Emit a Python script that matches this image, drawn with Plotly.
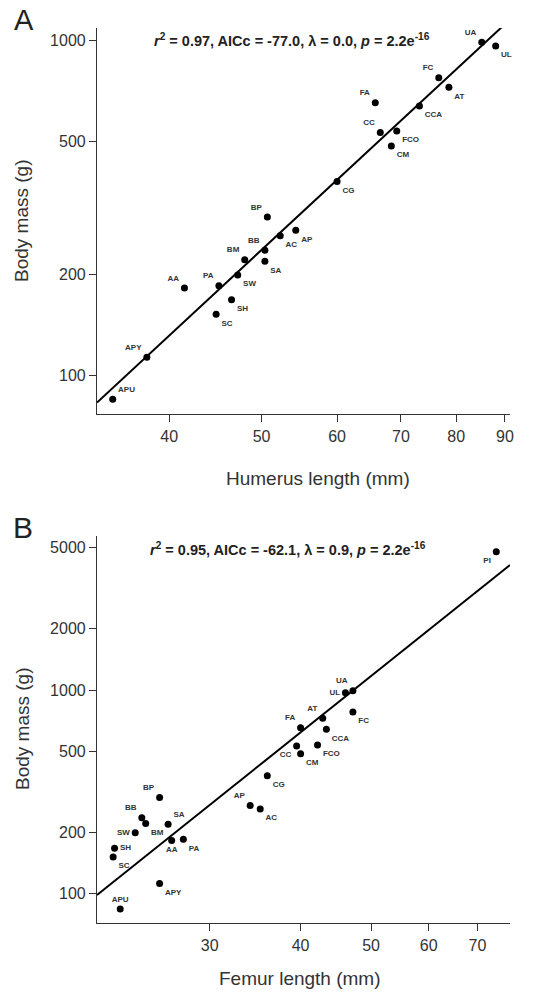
import numpy as np
import plotly.graph_objects as go

# ---------------- data ----------------
species_a = ["UA", "UL", "FC", "AT", "FA", "CCA", "CC", "FCO", "CM", "CG", "BP", "AP",
             "AC", "BB", "BM", "SA", "SW", "PA", "AA", "SH", "SC", "APY", "APU"]
humerus_mm = [85.1, 88.0, 76.7, 78.6, 65.8, 73.2, 66.6, 69.3, 68.4, 60.0, 50.7, 54.3,
              52.3, 50.4, 48.0, 50.4, 47.2, 45.1, 41.5, 46.5, 44.8, 37.9, 34.9]
mass_a_g = [989, 964, 775, 726, 652, 638, 531, 537, 484, 379, 297, 271,
            261, 236, 221, 219, 199, 185, 182, 168, 152, 113, 84.6]

species_b = ["PI", "UA", "UL", "FC", "AT", "FA", "CCA", "CC", "FCO", "CM", "CG", "BP",
             "AP", "AC", "BB", "BM", "SA", "SW", "AA", "PA", "SH", "SC", "APY", "APU"]
femur_mm = [74.3, 47.2, 46.1, 47.2, 42.9, 40.0, 43.4, 39.5, 42.2, 40.0, 36.0, 25.6,
            34.1, 35.2, 24.2, 24.5, 26.3, 23.7, 26.6, 27.6, 22.2, 22.1, 25.6, 22.6]
mass_b_g = [4780, 992, 970, 780, 726, 653, 641, 531, 537, 486, 379, 296,
            271, 260, 236, 221, 219, 199, 182, 185, 167, 151, 112, 83.9]

# log10(mass) = intercept + slope * log10(length)
fit_a = {"intercept": -2.1196, "slope": 2.645}
fit_b = {"intercept": -1.7836, "slope": 2.856}

stats_a = "<b><i>r</i><sup>2</sup> = 0.97, AICc = -77.0, λ = 0.0, <i>p</i> = 2.2e<sup>-16</sup></b>"
stats_b = "<b><i>r</i><sup>2</sup> = 0.95, AICc = -62.1, λ = 0.9, <i>p</i> = 2.2e<sup>-16</sup></b>"

xticks_a = [40, 50, 60, 70, 80, 90]
yticks_a = [100, 200, 500, 1000]
xticks_b = [30, 40, 50, 60, 70]
yticks_b = [100, 200, 500, 1000, 2000, 5000]

# ---------------- styles ----------------
pos_a = ["top left", "bottom right", "top left", "bottom right", "top left", "bottom right",
         "top left", "bottom right", "bottom right", "bottom right", "top left", "bottom right",
         "bottom right", "top left", "top left", "bottom right", "bottom right", "top left",
         "top left", "bottom right", "bottom right", "top left", "top right"]
pos_b = ["bottom left", "top left", "middle left", "bottom right", "top left", "top left",
         "bottom right", "bottom left", "bottom right", "bottom right", "bottom right", "top left",
         "top left", "bottom right", "top left", "bottom right", "top right", "middle left",
         "bottom center", "bottom right", "middle right", "bottom right", "bottom right", "top center"]

FONT = "Liberation Sans, Arial, Helvetica, sans-serif"
OFF = 8                       # page body margin of the html page
W, H = 548 - OFF, 993 - OFF


def px(x):
    return (x - OFF) / W


def py(y):
    return 1 - (y - OFF) / H


xr_a = [np.log10(33.6), np.log10(91.1)]
yr_a = [np.log10(76.3), np.log10(1091)]
xr_b = [np.log10(21.0), np.log10(77.6)]
yr_b = [np.log10(71.4), np.log10(5710)]

xdom = [px(97), px(510)]
ydom_a = [py(414.3), py(28)]
ydom_b = [py(923.3), py(536)]

fig = go.Figure()


def add_panel(xs, ys, names, positions, fit, xr, xa, ya):
    lx = np.array([10 ** xr[0], 10 ** xr[1]])
    ly = 10 ** (fit["intercept"] + fit["slope"] * np.log10(lx))
    fig.add_trace(go.Scatter(x=lx, y=ly, mode="lines", xaxis=xa, yaxis=ya,
                             line=dict(color="black", width=2), showlegend=False,
                             hoverinfo="skip"))
    fig.add_trace(go.Scatter(x=xs, y=ys, mode="markers+text", text=names,
                             textposition=positions, xaxis=xa, yaxis=ya,
                             marker=dict(color="black", size=7),
                             textfont=dict(family=FONT, size=8, color="#333333", weight="bold"),
                             showlegend=False, cliponaxis=False))


add_panel(humerus_mm, mass_a_g, species_a, pos_a, fit_a, xr_a, "x", "y")
add_panel(femur_mm, mass_b_g, species_b, pos_b, fit_b, xr_b, "x2", "y2")

axis_common = dict(type="log", showline=True, linecolor="#333333", linewidth=1.2,
                   ticks="outside", ticklen=7, tickwidth=1.2, tickcolor="#333333",
                   showgrid=False, zeroline=False, automargin=False,
                   tickfont=dict(family=FONT, size=16, color="#333333"))

fig.update_layout(
    width=W, height=H,
    margin=dict(l=0, r=0, t=0, b=0),
    paper_bgcolor="white", plot_bgcolor="white",
    xaxis=dict(axis_common, domain=xdom, range=xr_a, anchor="y",
               tickmode="array", tickvals=xticks_a, ticktext=[str(v) for v in xticks_a]),
    yaxis=dict(axis_common, domain=ydom_a, range=yr_a, anchor="x",
               tickmode="array", tickvals=yticks_a, ticktext=[str(v) for v in yticks_a]),
    xaxis2=dict(axis_common, domain=xdom, range=xr_b, anchor="y2",
                tickmode="array", tickvals=xticks_b, ticktext=[str(v) for v in xticks_b]),
    yaxis2=dict(axis_common, domain=ydom_b, range=yr_b, anchor="x2",
                tickmode="array", tickvals=yticks_b, ticktext=[str(v) for v in yticks_b]),
)

ann = []
title_font = dict(family=FONT, size=19, color="#333333")


def note(text, x, y, font, angle=0):
    ann.append(dict(text=text, x=px(x), y=py(y), xref="paper", yref="paper", textangle=angle,
                    showarrow=False, font=font, xanchor="center", yanchor="middle"))


# axis titles
note("Body mass (g)", 22, 221, title_font, -90)
note("Humerus length (mm)", 318, 478, title_font)
note("Body mass (g)", 22, 729, title_font, -90)
note("Femur length (mm)", 300, 978, title_font)
# panel letters
note("A", 24, 20, dict(family=FONT, size=29, color="#222222"))
note("B", 23, 527, dict(family=FONT, size=30, color="#222222"))
# stats
note(stats_a, 292, 40, dict(family=FONT, size=14.5, color="#222222"))
note(stats_b, 288, 549, dict(family=FONT, size=14.5, color="#222222"))
fig.update_layout(annotations=ann)

fig.write_html("out.html")
